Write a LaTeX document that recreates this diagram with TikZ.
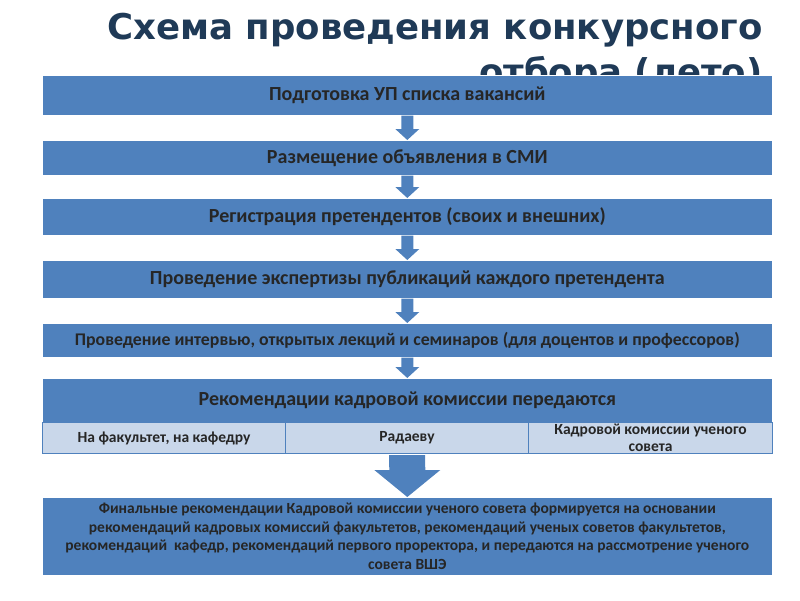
\documentclass[tikz,border=0pt]{standalone}
\usetikzlibrary{calc}
\usepackage{fontspec}
\setmainfont{Carlito}
\newfontfamily\titlefont{DejaVu Sans}
\definecolor{bx}{HTML}{4F81BD}
\definecolor{lt}{HTML}{C9D7EA}
\definecolor{tt}{HTML}{1F3A57}
\begin{document}
\begin{tikzpicture}[x=1pt,y=-1pt,
 box/.style={fill=bx,draw=white,line width=0.6pt,minimum width=730pt,anchor=north west,inner sep=0pt,font=\bfseries\fontsize{20}{22}\selectfont,text=black!85,align=center},
 sub/.style={fill=lt,draw=bx,line width=1pt,anchor=north west,inner sep=0pt,font=\bfseries\fontsize{15.5}{17}\selectfont,text=black!85,align=center,minimum height=31pt},
 arr/.style={fill=bx}]
\useasboundingbox (0,0) rectangle (800,600);
\node[font=\titlefont\bfseries\fontsize{35.5}{42}\selectfont,text=tt,anchor=north east] (t1) at (766,10) {Схема проведения конкурсного};
\node[font=\titlefont\bfseries\fontsize{35.5}{42}\selectfont,text=tt,anchor=north east] (t2) at (766,53) {отбора (лето)};
\node[box,minimum height=40pt] (b1) at (42,75) {Подготовка УП списка вакансий};
\node[box,minimum height=35pt] (b2) at (42,140) {Размещение объявления в СМИ};
\node[box,minimum height=37pt] (b3) at (42,198) {Регистрация претендентов (своих и внешних)};
\node[box,minimum height=38pt] (b4) at (42,260) {Проведение экспертизы публикаций каждого претендента};
\node[box,minimum height=34pt,font=\bfseries\fontsize{17.8}{19}\selectfont] (b5) at (42,323) {Проведение интервью, открытых лекций и семинаров (для доцентов и профессоров)};
\node[box,minimum height=44pt] (b6) at (42,378) {Рекомендации кадровой комиссии передаются};
\node[sub,minimum width=243pt] (s1) at (42,422) {На факультет, на кафедру};
\node[sub,minimum width=243pt] (s2) at (285,422) {Радаеву};
\node[sub,minimum width=244pt] (s3) at (528,422) {Кадровой комиссии ученого\\совета};
\node[box,minimum height=78pt,font=\bfseries\fontsize{15.5}{18.5}\selectfont] (b7) at (42,497) {Финальные рекомендации Кадровой комиссии ученого совета формируется на основании\\рекомендаций кадровых комиссий факультетов, рекомендаций ученых советов факультетов,\\рекомендаций\ \ кафедр, рекомендаций первого проректора, и передаются на рассмотрение ученого\\совета ВШЭ};
\foreach \a/\b in {b1/b2,b2/b3,b3/b4,b4/b5,b5/b6}{
 \path (\a.south) coordinate (p) (\b.north) coordinate (q);
 \fill[arr] ($(p)+(-6,0)$) -- ($(p)+(6,0)$) -- ($(q)+(6,-11)$) -- ($(q)+(12,-11)$) -- (q) -- ($(q)+(-12,-11)$) -- ($(q)+(-6,-11)$) -- cycle;
}
\path (s2.south) coordinate (p) (b7.north) coordinate (q);
\fill[arr] ($(p)+(-18,1)$) -- ($(p)+(18,1)$) -- ($(q)+(18,-27)$) -- ($(q)+(33,-27)$) -- (q) -- ($(q)+(-33,-27)$) -- ($(q)+(-18,-27)$) -- cycle;
\end{tikzpicture}
\end{document}
